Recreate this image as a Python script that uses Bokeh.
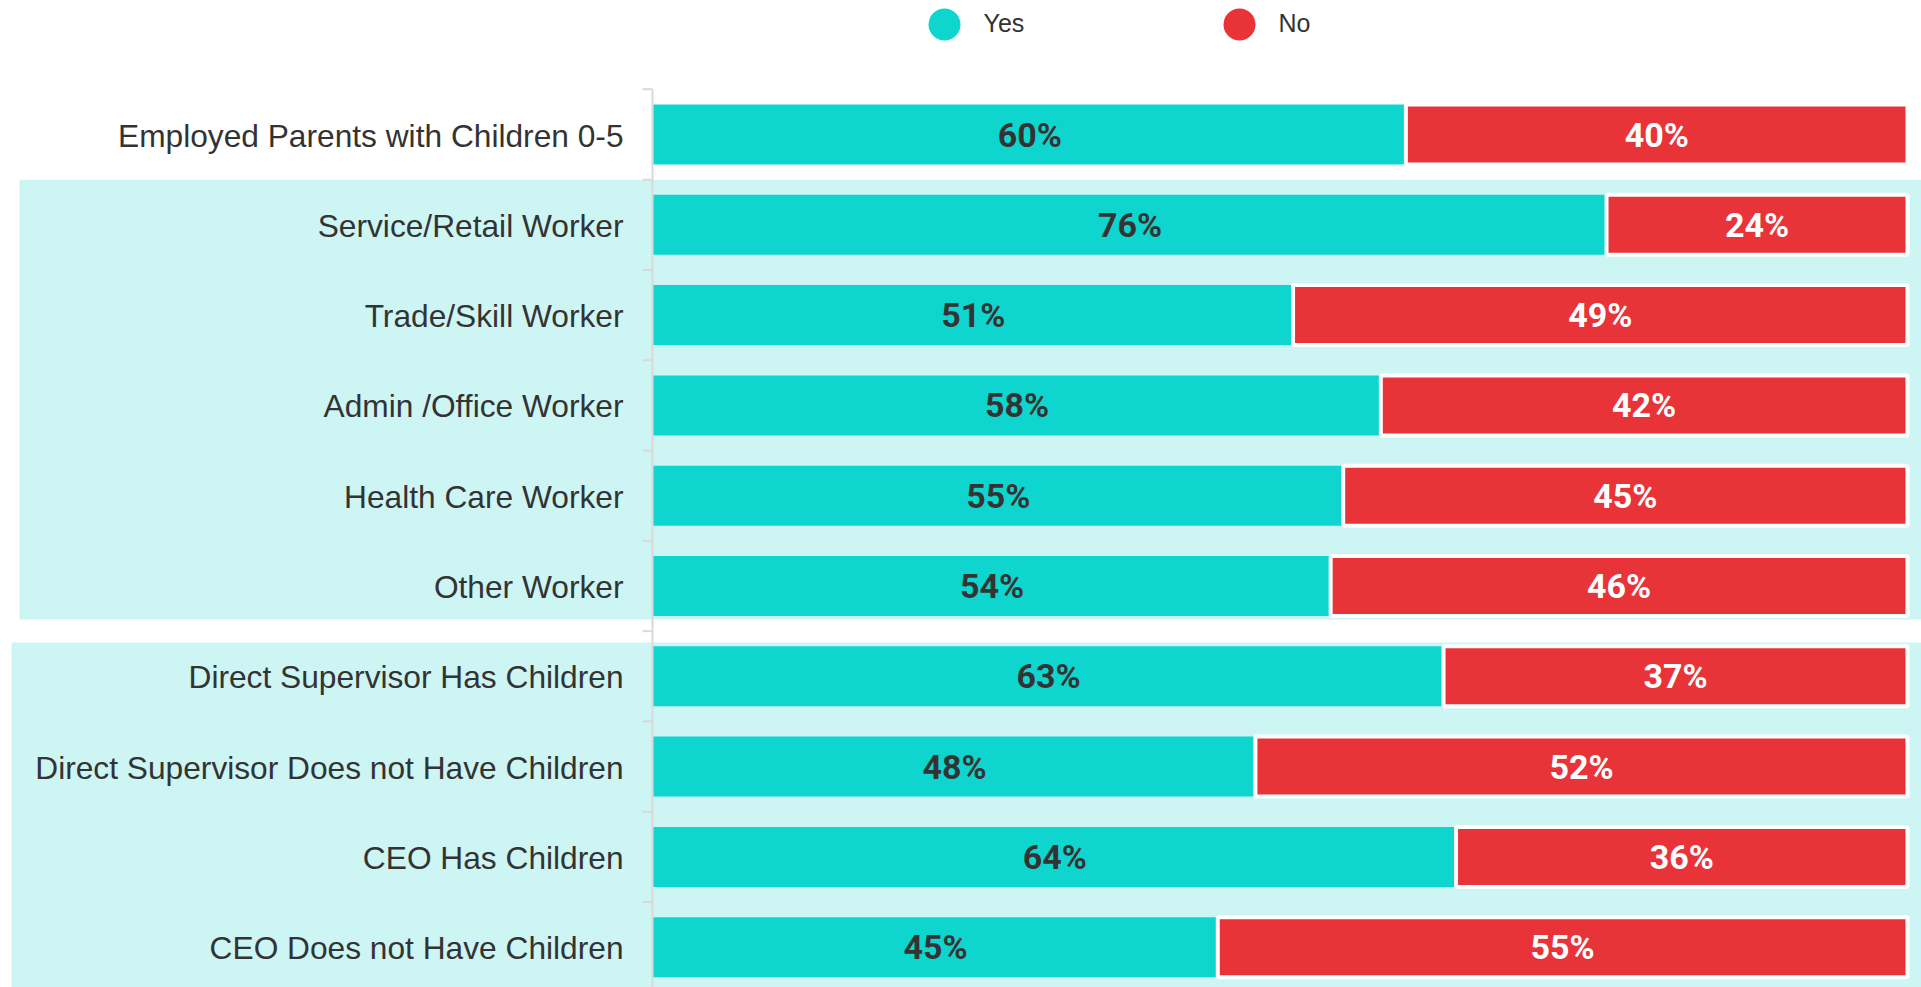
from bokeh.plotting import figure
from bokeh.models import Range1d
from bokeh.core.properties import value
from bokeh.embed import file_html
from bokeh.resources import INLINE

# ---------------- data ----------------
categories = [
    "Employed Parents with Children 0-5",
    "Service/Retail Worker",
    "Trade/Skill Worker",
    "Admin /Office Worker",
    "Health Care Worker",
    "Other Worker",
    "Direct Supervisor Has Children",
    "Direct Supervisor Does not Have Children",
    "CEO Has Children",
    "CEO Does not Have Children",
]
yes_pct = [60, 76, 51, 58, 55, 54, 63, 48, 64, 45]
no_pct = [40, 24, 49, 42, 45, 46, 37, 52, 36, 55]
series_names = ["Yes", "No"]
# shaded groups (first row index, last row index)
group_rows = [(1, 5), (6, 9)]

# ---------------- styles / layout ----------------
YES_COLOR = "#0ED6CE"
NO_COLOR = "#E83338"
BAND_COLOR = "#CDF5F3"
AXIS_COLOR = "#D9D9D9"
TEXT_COLOR = "#333333"

FIG_W, FIG_H = 1921, 987
X0_PX, X100_PX = 653.0, 1907.0      # pixel of 0% and 100%
ROW0_PX, ROW_PITCH = 134.0, 90.3     # pixel centre of first row, row pitch
BAR_H_PX = 60.0
PPU = (X100_PX - X0_PX) / 100.0


def px_x(px):
    return (px - X0_PX) / PPU


def px_y(py):
    return (py - ROW0_PX) / ROW_PITCH


n = len(categories)
rows = list(range(n))

p = figure(
    width=FIG_W, height=FIG_H, output_backend="svg", toolbar_location=None,
    x_range=Range1d(px_x(0), px_x(FIG_W)),
    y_range=Range1d(px_y(FIG_H), px_y(0)),
    x_axis_type=None, y_axis_type=None,
    min_border=0, min_border_left=0, min_border_right=0,
    min_border_top=0, min_border_bottom=0,
    outline_line_color=None,
    background_fill_color="white", border_fill_color="white",
)
p.grid.visible = False

# background bands for the groups
band_left_px = [19, 11]
band_pad_top_px = [0.0, 11.4]
band_pad_bot_px = [11.6, 0.0]
p.quad(
    left=[px_x(v) for v in band_left_px],
    right=px_x(FIG_W + 20),
    top=[g[0] - 0.5 + band_pad_top_px[i] / ROW_PITCH for i, g in enumerate(group_rows)],
    bottom=[(g[1] + 0.5 - band_pad_bot_px[i] / ROW_PITCH) if i < len(group_rows) - 1 else px_y(FIG_H + 20)
            for i, g in enumerate(group_rows)],
    fill_color=BAND_COLOR, line_color=None,
)

# category axis line and ticks
axis_x = px_x(X0_PX - 1)
p.segment(x0=axis_x, x1=axis_x, y0=-0.5, y1=px_y(FIG_H + 20),
          line_color=AXIS_COLOR, line_width=2)
tick_y = [r - 0.5 for r in range(n + 1)]
p.segment(x0=px_x(X0_PX - 11), x1=axis_x, y0=tick_y, y1=tick_y,
          line_color=AXIS_COLOR, line_width=2)

# stacked bars
bar_h = BAR_H_PX / ROW_PITCH
p.hbar(y=rows, left=0, right=yes_pct, height=bar_h,
       fill_color=YES_COLOR, line_color=None)
p.hbar(y=rows, left=yes_pct, right=[a + b for a, b in zip(yes_pct, no_pct)], height=bar_h,
       fill_color=NO_COLOR, line_color="white", line_width=4)

# category labels
p.text(x=0, y=rows, text=categories, x_offset=-30, y_offset=1,
       text_align="right", text_baseline="middle",
       text_font=value("Liberation Sans"), text_font_size="31.7px",
       text_color=TEXT_COLOR)

# data labels
p.text(x=[v / 2 for v in yes_pct], y=rows, text=[f"{v}%" for v in yes_pct],
       text_align="center", text_baseline="middle",
       text_font=value("Roboto"), text_font_style="bold", text_font_size="34px",
       text_color=TEXT_COLOR)
p.text(x=[a + b / 2 for a, b in zip(yes_pct, no_pct)], y=rows, text=[f"{v}%" for v in no_pct],
       text_align="center", text_baseline="middle",
       text_font=value("Roboto"), text_font_style="bold", text_font_size="34px",
       text_color="white")

# legend
legend_marker_px = [944, 1239]
legend_text_px = [983, 1278]
p.scatter(x=[px_x(v) for v in legend_marker_px], y=[px_y(24)] * 2, size=32,
          marker="circle", fill_color=[YES_COLOR, NO_COLOR], line_color=None)
p.text(x=[px_x(v) for v in legend_text_px], y=[px_y(22)] * 2, text=series_names,
       text_align="left", text_baseline="middle",
       text_font=value("Liberation Sans"), text_font_size="25px",
       text_color=TEXT_COLOR)

open("out.html", "w").write(file_html(p, INLINE))
